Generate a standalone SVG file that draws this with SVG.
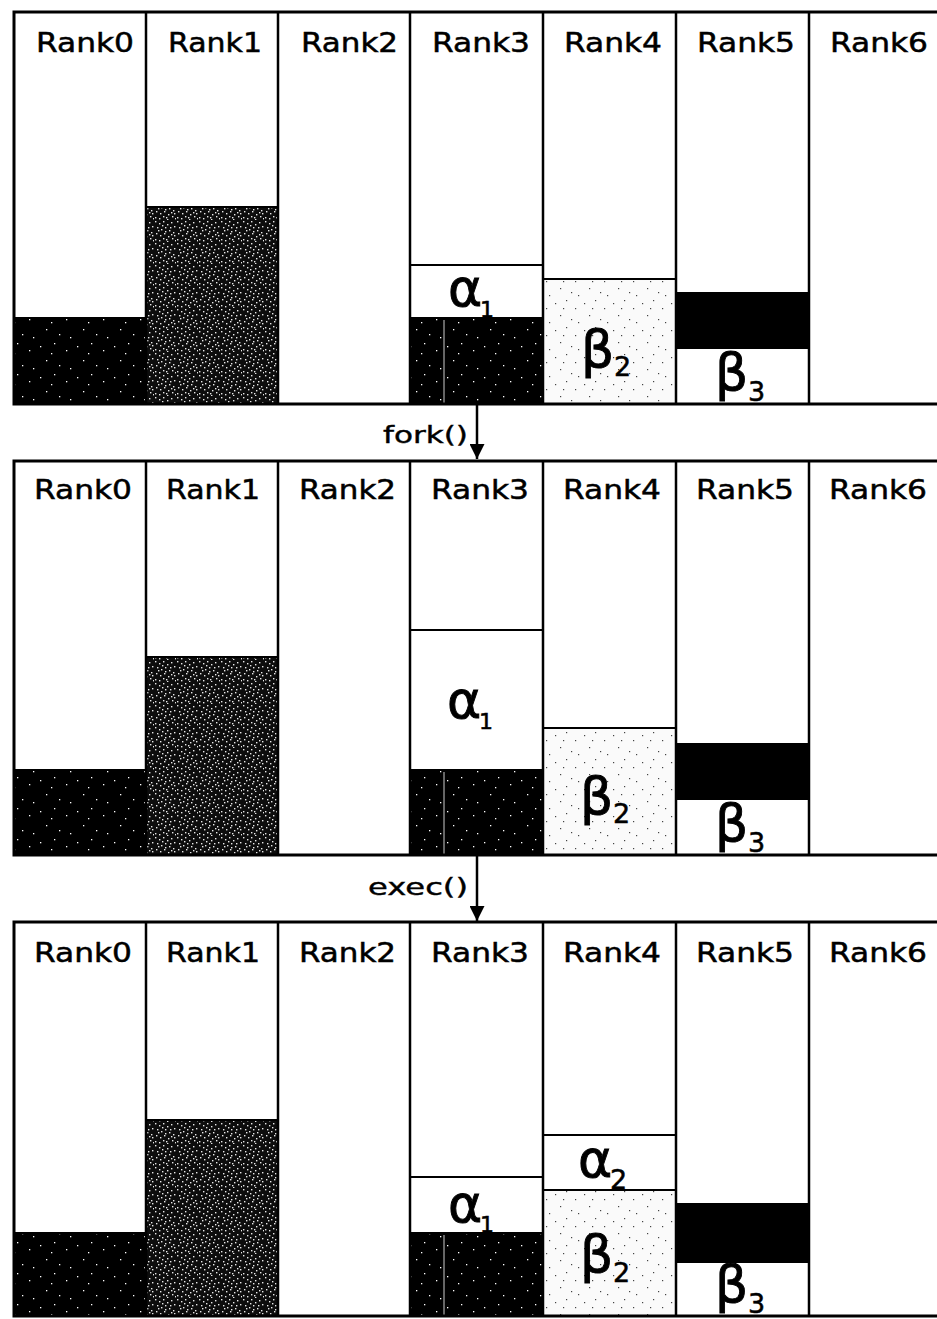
<svg xmlns="http://www.w3.org/2000/svg" width="937" height="1319" viewBox="0 0 937 1319">
<style>
.lbl{font-family:"DejaVu Sans","Liberation Sans",sans-serif;font-size:27px;fill:#000;stroke:#000;stroke-width:.5}
.op{font-family:"DejaVu Sans","Liberation Sans",sans-serif;font-size:23px;fill:#000;stroke:#000;stroke-width:.4}
.gk{font-family:"DejaVu Sans","Liberation Sans",sans-serif;font-size:52px;fill:#000;stroke:#000;stroke-width:.9}
.sub{font-family:"DejaVu Sans","Liberation Sans",sans-serif;font-size:27px;fill:#000;stroke:#000;stroke-width:.5}
.sub1{font-family:"DejaVu Sans","Liberation Sans",sans-serif;font-size:22px;fill:#000;stroke:#000;stroke-width:.6}
.frame{fill:none;stroke:#000;stroke-width:3}
.col{stroke:#000;stroke-width:2.5}
.div{stroke:#000;stroke-width:2}
.scan{stroke:#fff;stroke-width:1;opacity:.8}
.dark{fill:url(#pDark)}
.mid{fill:url(#pMid)}
.light{fill:url(#pLight)}
.solid{fill:#000}
.conn{stroke:#000;stroke-width:2.5;fill:none}
</style>
<defs>
<pattern id="pDark" width="37" height="31" patternUnits="userSpaceOnUse">
<rect width="37" height="31" fill="#000"/>
<g fill="#fff"><rect x="3" y="5" width="1.3" height="1.3"/><rect x="17" y="2" width="1.3" height="1.3"/><rect x="29" y="9" width="1.3" height="1.3"/><rect x="9" y="19" width="1.3" height="1.3"/><rect x="22" y="24" width="1.3" height="1.3"/><rect x="33" y="27" width="1.3" height="1.3"/><rect x="14" y="12" width="1.3" height="1.3"/></g>
</pattern>
<pattern id="pMid" width="22" height="22" patternUnits="userSpaceOnUse">
<rect width="22" height="22" fill="#0d0d0d"/>
<g fill="#fff" opacity=".9"><rect x="1" y="1" width="1.4" height="1.4"/><rect x="5" y="3" width="1.4" height="1.4"/><rect x="9" y="1" width="1.4" height="1.4"/><rect x="13" y="4" width="1.4" height="1.4"/><rect x="17" y="2" width="1.4" height="1.4"/><rect x="20" y="6" width="1.4" height="1.4"/><rect x="3" y="7" width="1.4" height="1.4"/><rect x="7" y="9" width="1.4" height="1.4"/><rect x="11" y="7" width="1.4" height="1.4"/><rect x="15" y="10" width="1.4" height="1.4"/><rect x="19" y="12" width="1.4" height="1.4"/><rect x="2" y="13" width="1.4" height="1.4"/><rect x="6" y="15" width="1.4" height="1.4"/><rect x="10" y="13" width="1.4" height="1.4"/><rect x="14" y="16" width="1.4" height="1.4"/><rect x="18" y="18" width="1.4" height="1.4"/><rect x="1" y="19" width="1.4" height="1.4"/><rect x="5" y="20" width="1.4" height="1.4"/><rect x="9" y="18" width="1.4" height="1.4"/><rect x="13" y="21" width="1.4" height="1.4"/><rect x="21" y="20" width="1.4" height="1.4"/><rect x="16" y="7" width="1.4" height="1.4"/><rect x="8" y="5" width="1.4" height="1.4"/><rect x="12" y="19" width="1.4" height="1.4"/><rect x="4" y="10" width="1.4" height="1.4"/><rect x="20" y="15" width="1.4" height="1.4"/><rect x="11" y="11" width="1.4" height="1.4"/><rect x="17" y="14" width="1.4" height="1.4"/></g>
</pattern>
<pattern id="pLight" width="29" height="27" patternUnits="userSpaceOnUse">
<rect width="29" height="27" fill="#fafafa"/>
<g fill="#444"><rect x="4" y="6" width="1.2" height="1.2"/><rect x="15" y="3" width="1.2" height="1.2"/><rect x="24" y="11" width="1.2" height="1.2"/><rect x="9" y="18" width="1.2" height="1.2"/><rect x="20" y="22" width="1.2" height="1.2"/><rect x="27" y="25" width="1.2" height="1.2"/><rect x="12" y="11" width="1.2" height="1.2"/></g>
</pattern>
<marker id="ah" markerWidth="16" markerHeight="15" refX="15" refY="7.5" orient="auto" markerUnits="userSpaceOnUse">
<path d="M0,0 L15,7.5 L0,15 Z" fill="#000"/>
</marker>
</defs>
<rect width="937" height="1319" fill="#fff"/>

<!-- Stage 1 -->
<g id="stage1">
<g id="s1-rank0"><rect class="dark" x="14" y="318" width="132" height="86"/><line class="div" x1="14" y1="318" x2="146" y2="318"/><text class="lbl" x="36" y="52" textLength="98" lengthAdjust="spacingAndGlyphs">Rank0</text></g>
<g id="s1-rank1"><rect class="mid" x="146" y="207" width="132" height="197"/><line class="div" x1="146" y1="207" x2="278" y2="207"/><text class="lbl" x="168" y="52" textLength="94" lengthAdjust="spacingAndGlyphs">Rank1</text></g>
<g id="s1-rank2"><text class="lbl" x="301" y="52" textLength="97" lengthAdjust="spacingAndGlyphs">Rank2</text></g>
<g id="s1-rank3"><rect class="dark" x="410" y="318" width="133" height="86"/><line class="scan" x1="444" y1="320" x2="444" y2="403"/><line class="div" x1="410" y1="265" x2="543" y2="265"/><line class="div" x1="410" y1="318" x2="543" y2="318"/><text class="lbl" x="432" y="52" textLength="98" lengthAdjust="spacingAndGlyphs">Rank3</text><text class="gk" x="448" y="306">α</text><text class="sub1" x="480" y="317">1</text></g>
<g id="s1-rank4"><rect class="light" x="543" y="279" width="133" height="125"/><line class="div" x1="543" y1="279" x2="676" y2="279"/><text class="lbl" x="564" y="52" textLength="98" lengthAdjust="spacingAndGlyphs">Rank4</text><text class="gk" x="581" y="367">β</text><text class="sub" x="614" y="376">2</text></g>
<g id="s1-rank5"><rect class="solid" x="676" y="292" width="133" height="57"/><text class="lbl" x="697" y="52" textLength="98" lengthAdjust="spacingAndGlyphs">Rank5</text><text class="gk" x="715" y="390">β</text><text class="sub" x="748" y="401">3</text></g>
<g id="s1-rank6"><text class="lbl" x="830" y="52" textLength="98" lengthAdjust="spacingAndGlyphs">Rank6</text></g>
<g id="s1-grid"><line class="col" x1="146" y1="12" x2="146" y2="404"/><line class="col" x1="278" y1="12" x2="278" y2="404"/><line class="col" x1="410" y1="12" x2="410" y2="404"/><line class="col" x1="543" y1="12" x2="543" y2="404"/><line class="col" x1="676" y1="12" x2="676" y2="404"/><line class="col" x1="809" y1="12" x2="809" y2="404"/><path class="frame" d="M937,12 H14 V404 H937"/></g>
</g>

<!-- Stage 2 -->
<g id="stage2">
<g id="s2-rank0"><rect class="dark" x="14" y="770" width="132" height="85"/><line class="div" x1="14" y1="770" x2="146" y2="770"/><text class="lbl" x="34" y="499" textLength="98" lengthAdjust="spacingAndGlyphs">Rank0</text></g>
<g id="s2-rank1"><rect class="mid" x="146" y="657" width="132" height="198"/><line class="div" x1="146" y1="657" x2="278" y2="657"/><text class="lbl" x="166" y="499" textLength="94" lengthAdjust="spacingAndGlyphs">Rank1</text></g>
<g id="s2-rank2"><text class="lbl" x="299" y="499" textLength="97" lengthAdjust="spacingAndGlyphs">Rank2</text></g>
<g id="s2-rank3"><rect class="dark" x="410" y="770" width="133" height="85"/><line class="scan" x1="444" y1="772" x2="444" y2="854"/><line class="div" x1="410" y1="630" x2="543" y2="630"/><line class="div" x1="410" y1="770" x2="543" y2="770"/><text class="lbl" x="431" y="499" textLength="98" lengthAdjust="spacingAndGlyphs">Rank3</text><text class="gk" x="447" y="718">α</text><text class="sub1" x="479" y="729">1</text></g>
<g id="s2-rank4"><rect class="light" x="543" y="728" width="133" height="127"/><line class="div" x1="543" y1="728" x2="676" y2="728"/><text class="lbl" x="563" y="499" textLength="98" lengthAdjust="spacingAndGlyphs">Rank4</text><text class="gk" x="580" y="814">β</text><text class="sub" x="613" y="823">2</text></g>
<g id="s2-rank5"><rect class="solid" x="676" y="743" width="133" height="57"/><text class="lbl" x="696" y="499" textLength="98" lengthAdjust="spacingAndGlyphs">Rank5</text><text class="gk" x="715" y="841">β</text><text class="sub" x="748" y="852">3</text></g>
<g id="s2-rank6"><text class="lbl" x="829" y="499" textLength="98" lengthAdjust="spacingAndGlyphs">Rank6</text></g>
<g id="s2-grid"><line class="col" x1="146" y1="461" x2="146" y2="855"/><line class="col" x1="278" y1="461" x2="278" y2="855"/><line class="col" x1="410" y1="461" x2="410" y2="855"/><line class="col" x1="543" y1="461" x2="543" y2="855"/><line class="col" x1="676" y1="461" x2="676" y2="855"/><line class="col" x1="809" y1="461" x2="809" y2="855"/><path class="frame" d="M937,461 H14 V855 H937"/></g>
</g>

<!-- Stage 3 -->
<g id="stage3">
<g id="s3-rank0"><rect class="dark" x="14" y="1233" width="132" height="83"/><line class="div" x1="14" y1="1233" x2="146" y2="1233"/><text class="lbl" x="34" y="962" textLength="98" lengthAdjust="spacingAndGlyphs">Rank0</text></g>
<g id="s3-rank1"><rect class="mid" x="146" y="1120" width="132" height="196"/><line class="div" x1="146" y1="1120" x2="278" y2="1120"/><text class="lbl" x="166" y="962" textLength="94" lengthAdjust="spacingAndGlyphs">Rank1</text></g>
<g id="s3-rank2"><text class="lbl" x="299" y="962" textLength="97" lengthAdjust="spacingAndGlyphs">Rank2</text></g>
<g id="s3-rank3"><rect class="dark" x="410" y="1233" width="133" height="83"/><line class="scan" x1="444" y1="1235" x2="444" y2="1315"/><line class="div" x1="410" y1="1177" x2="543" y2="1177"/><line class="div" x1="410" y1="1233" x2="543" y2="1233"/><text class="lbl" x="431" y="962" textLength="98" lengthAdjust="spacingAndGlyphs">Rank3</text><text class="gk" x="448" y="1222">α</text><text class="sub1" x="480" y="1232">1</text></g>
<g id="s3-rank4"><rect class="light" x="543" y="1190" width="133" height="126"/><line class="div" x1="543" y1="1135" x2="676" y2="1135"/><line class="div" x1="543" y1="1190" x2="676" y2="1190"/><text class="lbl" x="563" y="962" textLength="98" lengthAdjust="spacingAndGlyphs">Rank4</text><text class="gk" x="578" y="1177">α</text><text class="sub" x="610" y="1189">2</text><text class="gk" x="580" y="1272">β</text><text class="sub" x="613" y="1282">2</text></g>
<g id="s3-rank5"><rect class="solid" x="676" y="1203" width="133" height="60"/><text class="lbl" x="696" y="962" textLength="98" lengthAdjust="spacingAndGlyphs">Rank5</text><text class="gk" x="715" y="1302">β</text><text class="sub" x="748" y="1313">3</text></g>
<g id="s3-rank6"><text class="lbl" x="829" y="962" textLength="98" lengthAdjust="spacingAndGlyphs">Rank6</text></g>
<g id="s3-grid"><line class="col" x1="146" y1="922" x2="146" y2="1316"/><line class="col" x1="278" y1="922" x2="278" y2="1316"/><line class="col" x1="410" y1="922" x2="410" y2="1316"/><line class="col" x1="543" y1="922" x2="543" y2="1316"/><line class="col" x1="676" y1="922" x2="676" y2="1316"/><line class="col" x1="809" y1="922" x2="809" y2="1316"/><path class="frame" d="M937,922 H14 V1316 H937"/></g>
</g>

<!-- Connectors -->
<g id="connectors">
<g id="fork"><line class="conn" x1="477" y1="404" x2="477" y2="459" marker-end="url(#ah)"/><text class="op" x="383" y="443" textLength="85" lengthAdjust="spacingAndGlyphs">fork()</text></g>
<g id="exec"><line class="conn" x1="477" y1="855" x2="477" y2="921" marker-end="url(#ah)"/><text class="op" x="368" y="895" textLength="100" lengthAdjust="spacingAndGlyphs">exec()</text></g>
</g>
</svg>
